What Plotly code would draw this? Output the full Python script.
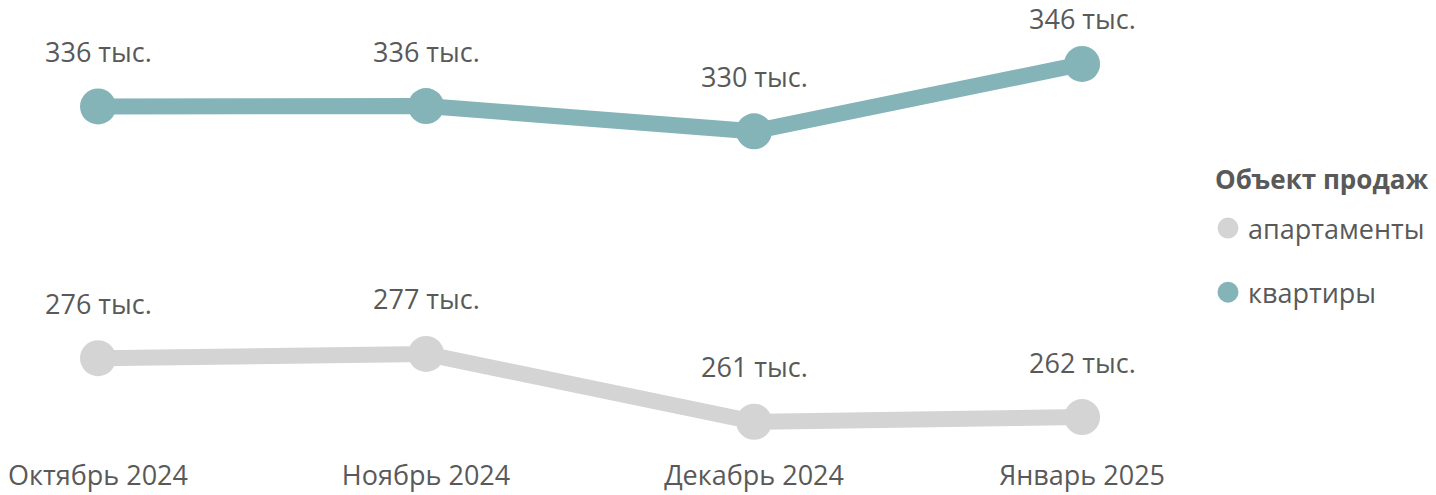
import plotly.graph_objects as go

months = ["Октябрь 2024", "Ноябрь 2024", "Декабрь 2024", "Январь 2025"]
apartments = [276.1, 277.1, 261.0, 262.1]
flats = [335.9, 336.0, 330.0, 346.0]
series_names = ["апартаменты", "квартиры"]
legend_title = "Объект продаж"
colors = ["#d4d4d4", "#84b4b8"]

FONT = "Open Sans"
TXT = "#595959"
W, H = 1436, 495
ML, MR, MT, MB = 0, 246, 0, 40
YMIN, YMAX = 253.1, 361.2
XR = [-0.2988, 3.329]
ph = H - MT - MB
pw = W - ML - MR

fig = go.Figure()
for name, vals, col in zip(series_names, [apartments, flats], colors):
    fig.add_trace(go.Scatter(
        x=months, y=vals, mode="lines+markers", name=name,
        line=dict(color=col, width=16),
        marker=dict(color=col, size=36),
        showlegend=False, hoverinfo="skip",
    ))
# legend entries (markers only)
for name, col in zip(series_names, colors):
    fig.add_trace(go.Scatter(
        x=[None], y=[None], mode="markers", name=name,
        marker=dict(color=col, size=16, line=dict(color=col, width=5)),
        legendgroup=name, showlegend=True, hoverinfo="skip",
    ))

annotations = []
for vals in [apartments, flats]:
    for m, v in zip(months, vals):
        pix = MT + (YMAX - v) / (YMAX - YMIN) * ph
        center = max(pix - 55, 18)
        annotations.append(dict(
            x=m, y=v, xref="x", yref="y", text=f"{round(v):.0f} тыс.",
            showarrow=False, yshift=pix - center, yanchor="middle",
            font=dict(family=FONT, size=27, color=TXT),
        ))
annotations.append(dict(
    x=(1213 - ML) / pw, y=1 - (179 - MT) / ph, xref="paper", yref="paper",
    xanchor="left", yanchor="middle", showarrow=False,
    text="<b>" + legend_title + "</b>",
    font=dict(family=FONT, size=26, color=TXT),
))

fig.update_layout(
    width=W, height=H,
    margin=dict(l=ML, r=MR, t=MT, b=MB, autoexpand=False),
    paper_bgcolor="white", plot_bgcolor="white",
    showlegend=True,
    legend=dict(
        font=dict(family=FONT, size=27, color=TXT),
        x=(1208 - ML) / pw, xanchor="left", y=1 - (204 - MT) / ph, yanchor="top",
        tracegroupgap=26, itemsizing="trace",
        bgcolor="rgba(0,0,0,0)",
    ),
    annotations=annotations,
    xaxis=dict(type="category", range=XR, showgrid=False, zeroline=False, showline=False,
               ticks="", automargin=False, ticklabelstandoff=2,
               tickfont=dict(family=FONT, size=27, color=TXT)),
    yaxis=dict(range=[YMIN, YMAX], visible=False, automargin=False),
)
fig.write_html("out.html", config={"displayModeBar": False},
               post_script="document.body.style.margin='0';document.body.style.overflow='hidden';")
